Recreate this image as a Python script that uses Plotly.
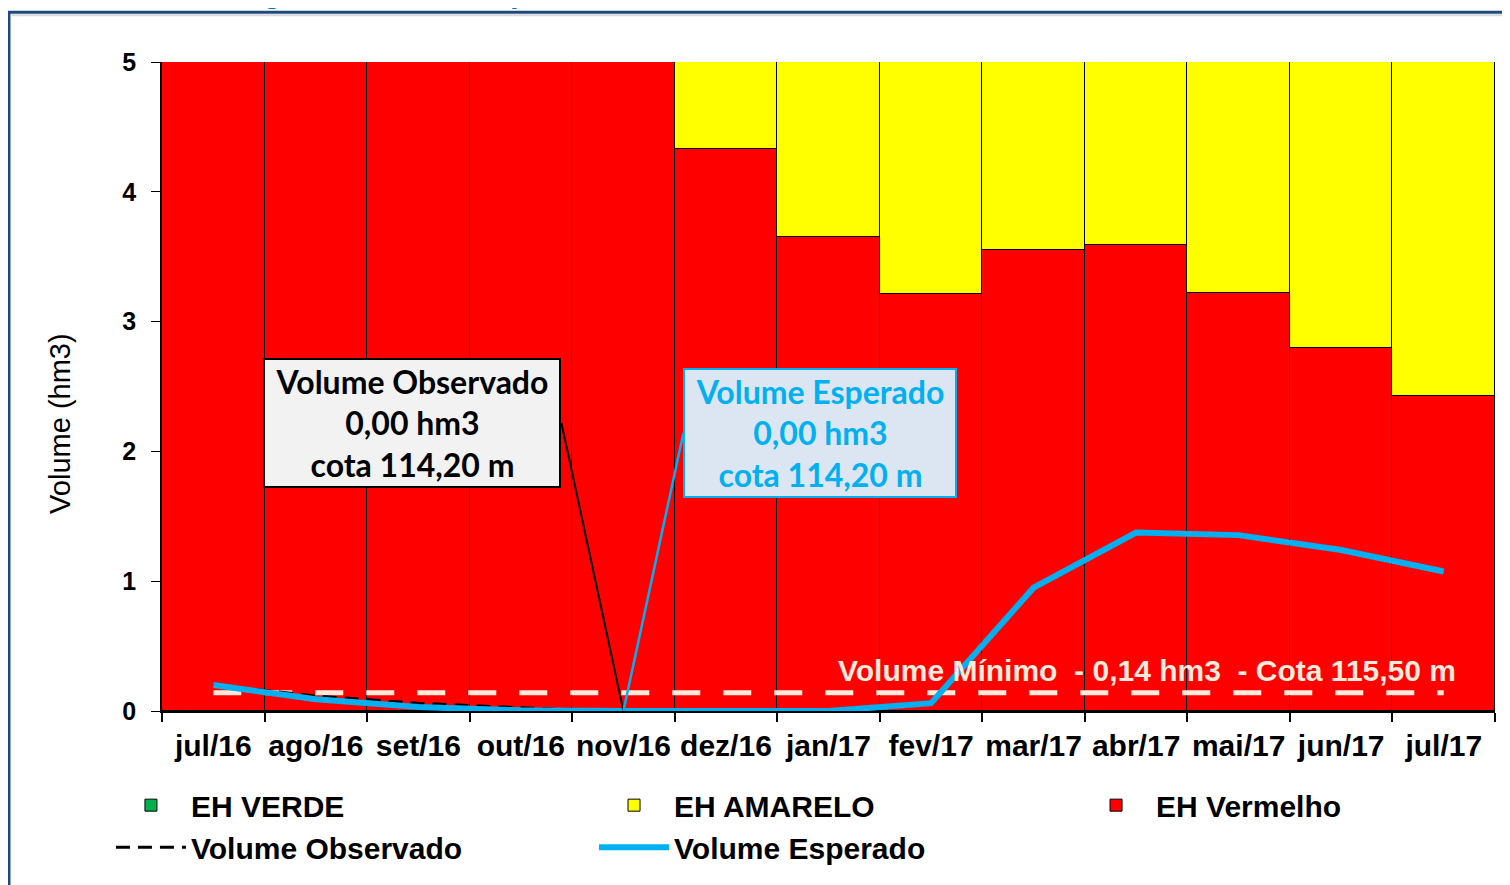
import plotly.graph_objects as go

categories = ["jul/16", "ago/16", "set/16", "out/16", "nov/16", "dez/16", "jan/17",
              "fev/17", "mar/17", "abr/17", "mai/17", "jun/17", "jul/17"]
eh_verde = [0, 0, 0, 0, 0, 0, 0, 0, 0, 0, 0, 0, 0]
eh_vermelho = [5.0, 5.0, 5.0, 5.0, 5.0, 4.33, 3.65, 3.21, 3.55, 3.59, 3.22, 2.80, 2.43]
eh_amarelo = [0.0, 0.0, 0.0, 0.0, 0.0, 0.67, 1.35, 1.79, 1.45, 1.41, 1.78, 2.20, 2.57]
volume_observado = [0.20, 0.115, 0.06, 0.025, 0.0, None, None, None, None, None, None, None, None]
volume_esperado = [0.20, 0.09, 0.03, 0.005, 0.0, 0.0, 0.0, 0.06, 0.95, 1.375, 1.355, 1.24, 1.075]
volume_minimo = [0.14, 0.14, 0.14, 0.14, 0.14, 0.14, 0.14, 0.14, 0.14, 0.14, 0.14, 0.14, 0.14]

ARIAL = "Liberation Sans, Arial, sans-serif"
CALLOUT_FONT = "Lato, Open Sans, sans-serif"

fig = go.Figure()
fig.add_trace(go.Bar(x=categories, y=eh_verde, name="EH VERDE", legend="legend",
                     marker=dict(color="#00B050", line=dict(color="black", width=1))))
fig.add_trace(go.Bar(x=categories, y=eh_vermelho, name="EH Vermelho", legend="legend3",
                     marker=dict(color="#FF0000", line=dict(color="black", width=1))))
fig.add_trace(go.Bar(x=categories, y=eh_amarelo, name="EH AMARELO", legend="legend2",
                     marker=dict(color="#FFFF00", line=dict(color="black", width=1))))
fig.add_trace(go.Scatter(x=categories, y=volume_minimo, mode="lines", showlegend=False,
                         line=dict(color="#FDEADA", width=5, dash="28px,23px"),
                         hoverinfo="skip"))
fig.add_trace(go.Scatter(x=categories, y=volume_observado, mode="lines", name="Volume Observado",
                         legend="legend",
                         line=dict(color="black", width=3, dash="14px,8px")))
fig.add_trace(go.Scatter(x=categories, y=volume_esperado, mode="lines", name="Volume Esperado",
                         legend="legend2",
                         line=dict(color="#00B0F0", width=6)))

# callout: observed
fig.add_annotation(x="nov/16", y=0, xref="x", yref="y",
                   text="Volume Observado<br>0,00 hm3<br>cota 114,20 m",
                   showarrow=True, arrowhead=0, arrowwidth=2, arrowcolor="black",
                   ax=-62, ay=-288, axref="pixel", ayref="pixel",
                   xanchor="right", yanchor="middle",
                   width=290, height=122, bgcolor="#F2F2F2", bordercolor="black",
                   borderwidth=2, borderpad=2,
                   font=dict(family=CALLOUT_FONT, size=32, color="black", weight="bold"))
# callout: expected
fig.add_annotation(x="nov/16", y=0, xref="x", yref="y",
                   text="Volume Esperado<br>0,00 hm3<br>cota 114,20 m",
                   showarrow=True, arrowhead=0, arrowwidth=2.5, arrowcolor="#00B0F0",
                   ax=60, ay=-278, axref="pixel", ayref="pixel",
                   xanchor="left", yanchor="middle",
                   width=266, height=122, bgcolor="#DCE6F2", bordercolor="#00B0F0",
                   borderwidth=2, borderpad=2,
                   font=dict(family=CALLOUT_FONT, size=32, color="#00B0F0", weight="bold"))
# minimum volume label
fig.add_annotation(x=0.972, y=0.315, xref="paper", yref="y", xanchor="right", yanchor="middle",
                   text="Volume Mínimo  - 0,14 hm3  - Cota 115,50 m", showarrow=False,
                   font=dict(family=ARIAL, size=30, color="#FDEADA", weight="bold"))
# y axis title
fig.add_annotation(x=-0.0765, y=0.4424, xref="paper", yref="paper", xanchor="center", yanchor="middle",
                   text="Volume (hm3)", textangle=-90, showarrow=False,
                   font=dict(family=ARIAL, size=29, color="black"))
# clipped title at top
fig.add_annotation(x=-0.0915, y=1.0783, xref="paper", yref="paper", xanchor="left", yanchor="bottom",
                   text="Estado Hidrológico - Volume Esperado x Volume Observado", showarrow=False,
                   font=dict(family=ARIAL, size=31, color="#0070C0", weight="bold"))

# frame
fig.add_shape(type="rect", xref="paper", yref="paper", x0=-0.1148, x1=1.05, y0=-0.4, y1=1.0768,
              line=dict(color="#1F497D", width=3), layer="above")
fig.add_shape(type="line", xref="paper", yref="paper", x0=-0.113, x1=1.05, y0=1.0722, y1=1.0722,
              line=dict(color="#D9D9D9", width=2), layer="above")

legend_common = dict(orientation="v", yanchor="top", y=-0.105, xanchor="left",
                     font=dict(family=ARIAL, size=30, color="black", weight="bold"),
                     itemwidth=70, bgcolor="rgba(0,0,0,0)", traceorder="normal")

fig.update_layout(
    width=1502, height=877,
    margin=dict(l=154, r=15, t=54, b=172),
    paper_bgcolor="white", plot_bgcolor="white",
    barmode="stack", bargap=0,
    showlegend=True,
    legend=dict(x=-0.0383, **legend_common),
    legend2=dict(x=0.3241, **legend_common),
    legend3=dict(x=0.6857, **legend_common),
    xaxis=dict(type="category", range=[-0.5, 12.5], tickson="boundaries", ticks="outside",
               ticklen=9, tickcolor="black", tickwidth=1.5, showline=True, linecolor="black",
               linewidth=1.5, showgrid=False, ticklabelstandoff=7, tickangle=0,
               tickfont=dict(family=ARIAL, size=30, color="black", weight="bold")),
    yaxis=dict(range=[0, 5], dtick=1, ticks="outside", ticklen=9, tickcolor="black",
               showline=True, linecolor="black", linewidth=1.5, showgrid=False, zeroline=False,
               tickfont=dict(family=ARIAL, size=25, color="black", weight="bold"),
               ticklabelstandoff=10),
)

fig.write_html("out.html")
